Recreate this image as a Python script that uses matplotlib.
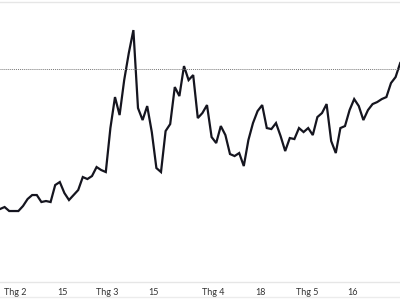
import matplotlib
matplotlib.use("Agg")
import matplotlib.pyplot as plt
from matplotlib.lines import Line2D

# daily closing values (trading days)
prices = [91, 93, 89, 89, 89, 94, 101, 105, 105, 98,
          99, 98, 115, 118, 107, 100, 105, 110, 123, 121,
          124, 133, 130, 128, 172, 203, 185, 220, 247, 270,
          192, 180, 194, 168, 132, 128, 169, 176, 213, 204,
          234, 220, 225, 182, 187, 195, 163, 157, 174, 165,
          146, 144, 147, 134, 160, 177, 189, 195, 172, 171,
          177, 164, 149, 162, 161, 172, 168, 172, 165, 183,
          187, 196, 159, 147, 172, 174, 190, 201, 194, 180,
          190, 196, 198, 201, 203, 217, 223, 237]
prev_close = 231

tick_pos = [3.3, 13.5, 23.3, 33.3, 46.3, 56.7, 66.7, 76.7]
tick_labels = ["Thg 2", "15", "Thg 3", "15", "Thg 4", "18", "Thg 5", "16"]

fig = plt.figure(figsize=(4, 3), dpi=100)
ax = fig.add_axes([0, 0.06, 1, 0.933])

ax.plot(range(len(prices)), prices, color="#15151f", linewidth=1.6,
        solid_joinstyle="miter")
ax.axhline(prev_close, color="#777777", linestyle=(0, (1, 1)), linewidth=0.7)

ax.set_xlim(0, 86.96)
ax.set_ylim(18, 298)
ax.set_yticks([])
ax.set_xticks(tick_pos)
ax.set_xticklabels(tick_labels, fontsize=6.5, color="#333333", family="Lato")
ax.tick_params(axis="x", length=0, pad=4)

for side in ["left", "right"]:
    ax.spines[side].set_visible(False)
for side in ["top", "bottom"]:
    ax.spines[side].set_color("#e6e6e6")
    ax.spines[side].set_linewidth(1)

# faint line under the tick labels
fig.add_artist(Line2D([0, 1], [0.011, 0.011], color="#ececec", linewidth=1,
                      transform=fig.transFigure))

fig.savefig("out.png", dpi=100)
